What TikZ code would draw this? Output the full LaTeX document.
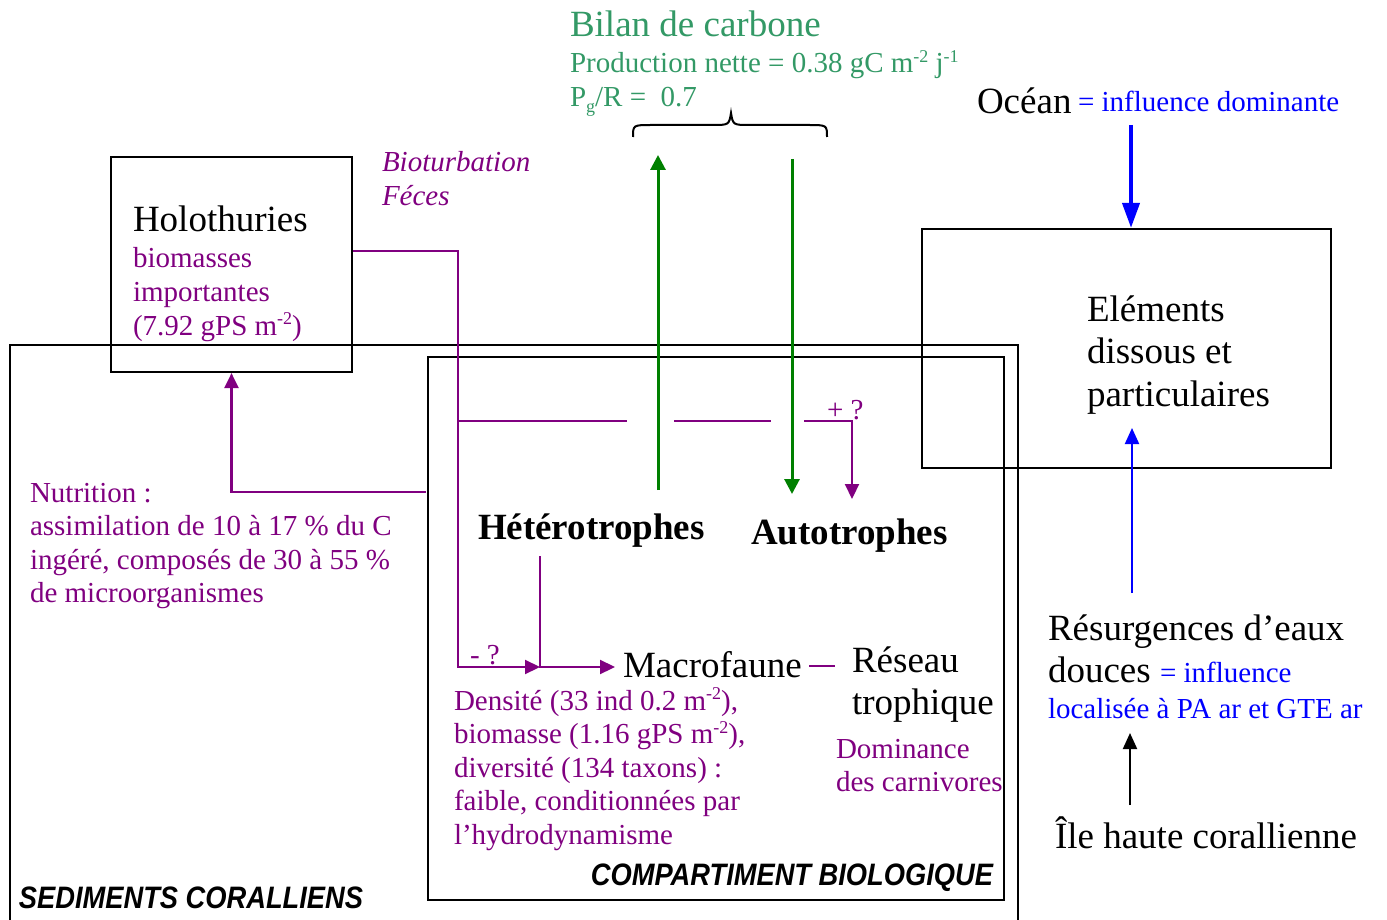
\documentclass[tikz,border=0pt]{standalone}
\usepackage{fontspec}
\setmainfont{Liberation Serif}
\newfontfamily\tagfont[FakeStretch=0.88]{Liberation Sans}
\usepackage{tikz}
\usetikzlibrary{arrows.meta,calc}
\definecolor{plum}{HTML}{800080}
\definecolor{leaf}{HTML}{008000}
\definecolor{seagreen}{HTML}{339966}
\newcommand{\bigfs}{\fontsize{37}{42.5}\selectfont}
\newcommand{\smallfs}{\fontsize{29}{33.5}\selectfont}
\newcommand{\upx}[1]{\raisebox{0.36em}{\fontsize{18}{18}\selectfont #1}}
\newcommand{\dnx}[1]{\raisebox{-0.22em}{\fontsize{18}{18}\selectfont #1}}
\newcommand{\rows}[1]{\begin{tabular}[t]{@{}l@{}}#1\end{tabular}}
\tikzset{
  txt/.style={anchor=base west,inner sep=0pt,outer sep=0pt},
  big/.style={txt,font=\bigfs},
  small/.style={txt,font=\smallfs},
  tag/.style={txt,font=\tagfont\bfseries\itshape\fontsize{31}{31}\selectfont},
  frame/.style={draw,line width=2.2pt},
  purp/.style={plum,line width=2.2pt},
  purpar/.style={purp,-{Triangle[length=15pt,width=14pt]}},
  garrow/.style={leaf,line width=3pt,-{Triangle[length=15pt,width=15pt]}},
}

\begin{document}
\begin{tikzpicture}[x=1pt,y=-1pt]
\useasboundingbox (0,0) rectangle (1387,920);
% compartments
\draw[frame] (10,345) rectangle (1018,940);
\draw[frame] (428,357) rectangle (1004,900);
\node[frame,minimum width=241pt,minimum height=215pt,inner sep=0pt] (holo) at (231.5,264.5) {};
\node[frame,minimum width=409pt,minimum height=239pt,inner sep=0pt] (elem) at (1126.5,348.5) {};
% carbon budget
\node[big,seagreen] (bilan) at (570,37) {Bilan de carbone};
\node[small,seagreen] (prod) at (570,73) {\rows{Production nette = 0.38 gC m\upx{-2} j\upx{-1}\\ P\dnx{g}/R = \ 0.7}};
\draw[line width=2pt] (633,137) .. controls (633,125) .. (652,125) -- (712,125) .. controls (729,125) .. (731,113) .. controls (733,125) .. (750,125) -- (808,125) .. controls (827,125) .. (827,137);
% ocean
\node[big] (ocean) at (977,114) {Océan};
\node[small,blue] (dom) at (1078,112) {= influence dominante};
\node[big] (elemT) at (1087,321) {\rows{Eléments\\dissous et\\particulaires}};
% holothurians
\node[big] (holoT) at (133,232) {Holothuries};
\node[small,plum] (holoD) at (133,268) {\rows{biomasses\\importantes\\(7.92 gPS m\upx{-2})}};
\node[small,plum,font=\smallfs\itshape] (bio) at (382,172) {\rows{Bioturbation\\Féces}};
\node[small,plum] (nutr) at (30,502) {\rows{Nutrition :\\assimilation de 10 à 17 \% du C\\ingéré, composés de 30 à 55 \%\\de microorganismes}};
% biological compartment
\node[big,font=\bigfs\bfseries] (het) at (478,539) {Hétérotrophes};
\node[big,font=\bigfs\bfseries] (auto) at (751,544) {Autotrophes};
\node[small,plum] (plusq) at (827,419) {+ ?};
\node[small,plum] (minq) at (470,664) {- ?};
\node[big] (macro) at (623,677) {Macrofaune};
\node[big] (reseau) at (852,672) {\rows{Réseau\\trophique}};
\node[small,plum] (dens) at (454,710) {\rows{Densité (33 ind 0.2 m\upx{-2}),\\biomasse (1.16 gPS m\upx{-2}),\\diversité (134 taxons) :\\faible, conditionnées par\\l’hydrodynamisme}};
\node[small,plum] (domc) at (836,758) {\rows{Dominance\\des carnivores}};
\node[tag,anchor=base east] (comp) at (993,885) {COMPARTIMENT BIOLOGIQUE};
\node[tag] (sed) at (19,908) {SEDIMENTS CORALLIENS};
% freshwater
\node[big] (resu) at (1048,640) {\rows{Résurgences d’eaux\\douces {\smallfs\color{blue}= influence}}};
\node[small,blue] (locl) at (1048,718) {localisée à PA ar et GTE ar};
\node[big] (ile) at (1055,848) {Île haute corallienne};

% connector ends
\coordinate (gUpA) at (658,490); \coordinate (gUpB) at (658,155);
\coordinate (gDnA) at (792,159); \coordinate (gDnB) at (792,494);
\coordinate (oc) at (1131,125);
\coordinate (rsA) at (1132,593); \coordinate (rsB) at (1132,428);
\coordinate (ilA) at (1130,805); \coordinate (ilB) at (1130,733);
\coordinate (bt) at ($(holo.north east)+(0,95)$);
\coordinate (btDn) at (458,667);
\coordinate (macIn) at (540,667);
\coordinate (hetDn) at (540,556);
\coordinate (macTip) at (615,667);
\coordinate (nut) at (426,492);
\coordinate (hopA) at (458,421); \coordinate (hopB) at (627,421);
\coordinate (hopC) at (674,421); \coordinate (hopD) at (771,421);
\coordinate (hopE) at (804,421); \coordinate (autTip) at (852,499);
\coordinate (dashA) at (809,666); \coordinate (dashB) at (835,666);

% fluxes
\draw[garrow] (gUpA) -- (gUpB);
\draw[garrow] (gDnA) -- (gDnB);
\draw[blue,line width=4pt,-{Triangle[length=25pt,width=17pt]}] (oc) -- (oc |- elem.north);
\draw[blue,line width=2pt,-{Triangle[length=16pt,width=14pt]}] (rsA) -- (rsB);
\draw[line width=2pt,-{Triangle[length=16pt,width=14pt]}] (ilA) -- (ilB);
% trophic links
\draw[purpar] (bt) -| (btDn) -- (macIn);
\draw[purpar] (hetDn) -- (macIn) -- (macTip);
\draw[purpar] (nut) -| (holo.south);
\draw[purp] (hopA) -- (hopB);
\draw[purp] (hopC) -- (hopD);
\draw[purpar] (hopE) -| (autTip);
\draw[purp] (dashA) -- (dashB);
\end{tikzpicture}
\end{document}
